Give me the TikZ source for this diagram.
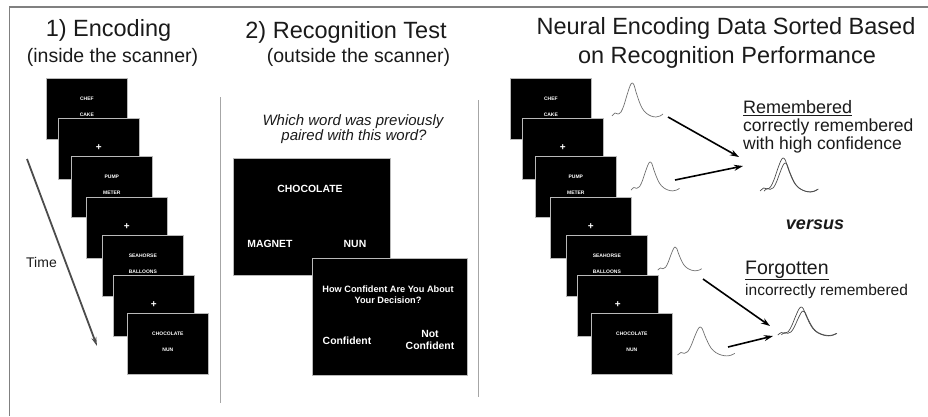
\documentclass[tikz,border=0pt]{standalone}
\usepackage{fontspec}
\setmainfont{Liberation Sans}
\usetikzlibrary{arrows.meta}
\definecolor{ink}{HTML}{1A1A1A}
\definecolor{framegray}{HTML}{808080}
\definecolor{wavegray}{HTML}{707070}
\newcommand\mystack[2]{%
  \node[slide] (#2a) at (46+#1,78) {};
  \node[tiny] (#2aw1) at ([yshift=-21pt]#2a.north) {CHEF};
  \node[tiny] (#2aw2) at ([yshift=-37pt]#2a.north) {CAKE};
  \node[slide] (#2b) at (58+#1,118) {};
  \node[cross] (#2bx) at ([yshift=-30pt]#2b.north) {+};
  \node[slide] (#2c) at (71+#1,156) {};
  \node[tiny] (#2cw1) at ([yshift=-21pt]#2c.north) {PUMP};
  \node[tiny] (#2cw2) at ([yshift=-37pt]#2c.north) {METER};
  \node[slide] (#2d) at (86+#1,197) {};
  \node[cross] (#2dx) at ([yshift=-30pt]#2d.north) {+};
  \node[slide] (#2e) at (102+#1,235) {};
  \node[tiny] (#2ew1) at ([yshift=-21pt]#2e.north) {SEAHORSE};
  \node[tiny] (#2ew2) at ([yshift=-37pt]#2e.north) {BALLOONS};
  \node[slide] (#2f) at (113+#1,275) {};
  \node[cross] (#2fx) at ([yshift=-30pt]#2f.north) {+};
  \node[slide] (#2g) at (127+#1,313) {};
  \node[tiny] (#2gw1) at ([yshift=-21pt]#2g.north) {CHOCOLATE};
  \node[tiny] (#2gw2) at ([yshift=-37pt]#2g.north) {NUN};
}
\begin{document}
\begin{tikzpicture}[x=1pt,y=-1pt,
  slide/.style={draw=gray!55, line width=0.7pt, fill=black, minimum width=81pt, minimum height=61pt, inner sep=0pt, anchor=north west},
  bigslide/.style={draw=gray!55, line width=0.7pt, fill=black, minimum height=117pt, inner sep=0pt, anchor=north west},
  tiny/.style={text=white, font=\bfseries\fontsize{5}{6}\selectfont, inner sep=0pt},
  cross/.style={text=white, font=\bfseries\fontsize{10}{10}\selectfont, inner sep=0pt},
  midtext/.style={text=white, font=\bfseries\fontsize{10.4}{12}\selectfont, inner sep=0pt, align=center},
  title/.style={text=ink, font=\fontsize{23.5}{26}\selectfont, inner sep=0pt},
  subtitle/.style={text=ink, font=\fontsize{19.5}{22}\selectfont, inner sep=0pt},
  question/.style={text=ink, font=\itshape\fontsize{15}{17}\selectfont, inner sep=0pt},
  label/.style={text=ink, inner sep=0pt, anchor=west},
  underl/.style={draw=ink, line width=1.1pt},
  divider/.style={draw=gray!70, line width=0.8pt},
  wavestyle/.style={draw=wavegray, line width=0.7pt},
  combstyle/.style={draw=black!70, line width=0.7pt},
  sortarrow/.style={draw=black, line width=1.6pt, -{Stealth[length=9pt,width=6pt]}},
  wave/.pic={\draw[pic actions] plot[smooth, tension=0.55] coordinates {(-20,33) (-17,30) (-14,31) (-11,29) (-8,22) (-5,12) (-2,3) (0,0) (2,2) (4,9) (7,18) (10,25) (14,30) (19,33) (24,34) (28,33) (31,31)};}
]
\useasboundingbox (0,0) rectangle (928,416);
% frame (top and left edges)
\draw[framegray, line width=1.5pt] (9.5,416) -- (9.5,7) -- (928,7);
% dividers
\coordinate (d1t) at (220,97); \coordinate (d1b) at (220,403);
\coordinate (d2t) at (478,100); \coordinate (d2b) at (478,397);
\draw[divider] (d1t) -- (d1b);
\draw[divider] (d2t) -- (d2b);

% ---- panel 1
\node[title] (t1) at (108.5,30) {1) Encoding};
\node[subtitle] (s1) at (112.5,57) {(inside the scanner)};
\mystack{0}{L}
\coordinate (time0) at (27,159);
\coordinate (time1) at (97,346);
\draw[draw=black!70, line width=1.8pt, -{Stealth[length=9pt,width=5pt]}] (time0) -- (time1);
\node[text=ink, font=\fontsize{14}{16}\selectfont, inner sep=0pt, anchor=west] (time) at (26,262) {Time};

% ---- panel 2
\node[title] (t2) at (346,32) {2) Recognition Test};
\node[subtitle] (s2) at (358.5,57) {(outside the scanner)};
\node[question] (q1) at (353,122) {Which word was previously};
\node[question] (q2) at (354,137) {paired with this word?};
\node[bigslide, minimum width=157pt] (ma) at (233,158) {};
\node[midtext] (choc) at (310,189) {CHOCOLATE};
\node[midtext] (magnet) at (270,244) {MAGNET};
\node[midtext] (nun) at (355,244) {NUN};
\node[bigslide, minimum width=155pt] (mb) at (312,258) {};
\node[midtext, font=\bfseries\fontsize{9.2}{11}\selectfont] (how) at (388,294.5) {How Confident Are You About\\Your Decision?};
\node[midtext] (conf) at (347,341) {Confident};
\node[midtext, font=\bfseries\fontsize{10.4}{12.5}\selectfont] (notconf) at (430,340) {Not\\Confident};

% ---- panel 3
\node[title] (t3) at (726,28) {Neural Encoding Data Sorted Based};
\node[title] (s3) at (727,57) {on Recognition Performance};
\mystack{464}{R}
\pic[wavestyle] at (632,83) {wave};
\pic[wavestyle, xscale=0.95, yscale=0.85] at (650,162) {wave};
\pic[wavestyle, xscale=0.86, yscale=0.7] at (675,247) {wave};
\pic[wavestyle, xscale=1.12, yscale=0.85] at (700,327) {wave};
\pic[combstyle, xscale=1.14, yscale=1.0] at (783,158) {wave};
\pic[combstyle, xscale=1.05, yscale=0.85] at (785,163) {wave};
\pic[combstyle, xscale=1.16, yscale=0.85] at (801,307) {wave};
\pic[combstyle, xscale=1.08, yscale=0.72] at (803,311) {wave};
\coordinate (a1s) at (668,117); \coordinate (a1e) at (739,157);
\coordinate (a2s) at (675,180); \coordinate (a2e) at (743,166);
\coordinate (a3s) at (703,279); \coordinate (a3e) at (770,326);
\coordinate (a4s) at (728,347); \coordinate (a4e) at (773,336);
\draw[sortarrow] (a1s) -- (a1e);
\draw[sortarrow] (a2s) -- (a2e);
\draw[sortarrow] (a3s) -- (a3e);
\draw[sortarrow] (a4s) -- (a4e);
\node[label, font=\fontsize{18}{20}\selectfont] (rem) at (743,107) {Remembered};
\draw[underl] ([yshift=-2pt]rem.south west) -- ([yshift=-2pt]rem.south east);
\node[label, font=\fontsize{17.5}{20}\selectfont] (rem1) at (743,127) {correctly remembered};
\node[label, font=\fontsize{17.5}{20}\selectfont] (rem2) at (743,145) {with high confidence};
\node[text=ink, inner sep=0pt, font=\bfseries\itshape\fontsize{18}{20}\selectfont] (versus) at (815,225) {versus};
\node[label, font=\fontsize{19.5}{22}\selectfont] (forg) at (745,270) {Forgotten};
\draw[underl] ([yshift=-1pt]forg.south west) -- ([yshift=-1pt]forg.south east);
\node[label, font=\fontsize{15.5}{18}\selectfont] (forg1) at (745,291) {incorrectly remembered};
\end{tikzpicture}
\end{document}
